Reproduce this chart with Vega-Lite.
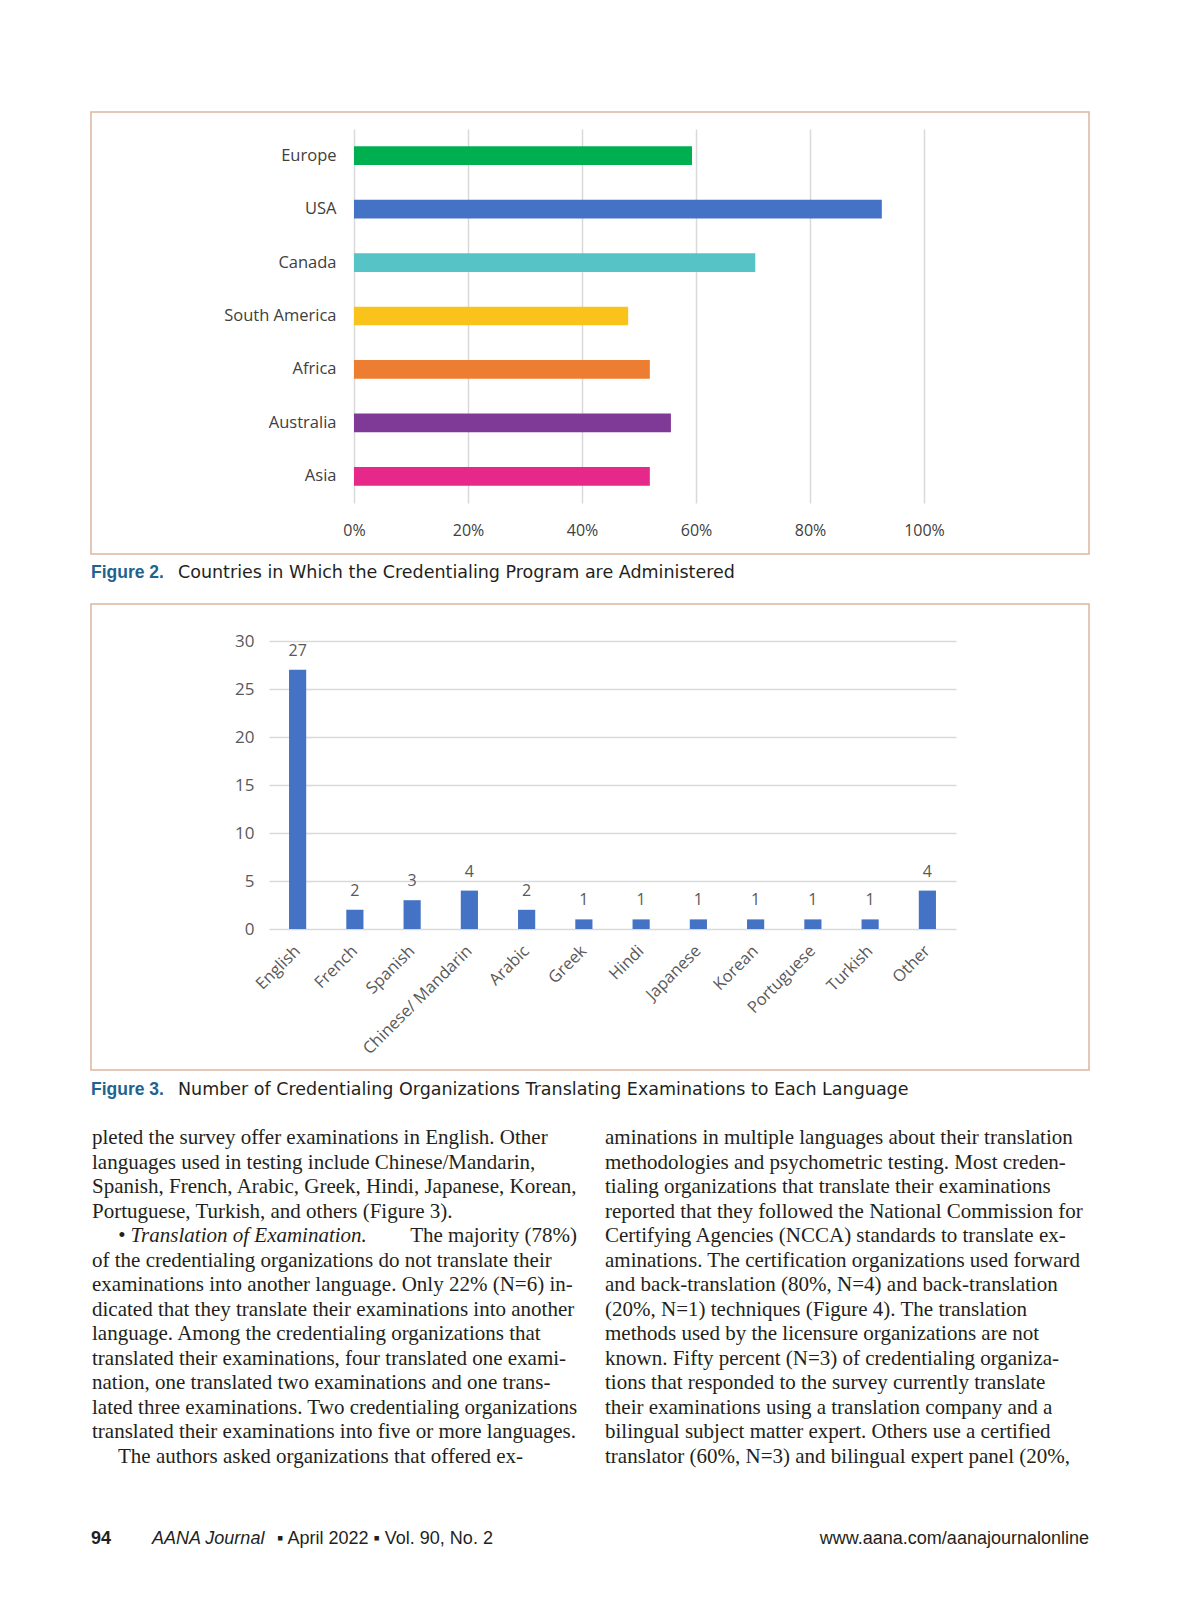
{
  "$schema": "https://vega.github.io/schema/vega-lite/v6.json",
  "background": "white",
  "padding": {"left": 90, "top": 111, "right": 0, "bottom": 0},
  "bounds": "flush",
  "spacing": 0,
  "config": {"view": {"stroke": null}, "font": "Open Sans"},
  "datasets": {
    "regions": [
      {"region": "Europe", "share": 0.593},
      {"region": "USA", "share": 0.926},
      {"region": "Canada", "share": 0.704},
      {"region": "South America", "share": 0.481},
      {"region": "Africa", "share": 0.519},
      {"region": "Australia", "share": 0.556},
      {"region": "Asia", "share": 0.519}
    ],
    "languages": [
      {"language": "English", "count": 27},
      {"language": "French", "count": 2},
      {"language": "Spanish", "count": 3},
      {"language": "Chinese/ Mandarin", "count": 4},
      {"language": "Arabic", "count": 2},
      {"language": "Greek", "count": 1},
      {"language": "Hindi", "count": 1},
      {"language": "Japanese", "count": 1},
      {"language": "Korean", "count": 1},
      {"language": "Portuguese", "count": 1},
      {"language": "Turkish", "count": 1},
      {"language": "Other", "count": 4}
    ],
    "cap2": [
      {"part": "fig", "text": "Figure 2."},
      {"part": "title", "text": "Countries in Which the Credentialing Program are Administered"}
    ],
    "cap3": [
      {"part": "fig", "text": "Figure 3."},
      {"part": "title", "text": "Number of Credentialing Organizations Translating Examinations to Each Language"}
    ],
    "body": [
      {"col": "left", "line": 1, "text": "pleted the survey offer examinations in English. Other"},
      {"col": "left", "line": 2, "text": "languages used in testing include Chinese/Mandarin,"},
      {"col": "left", "line": 3, "text": "Spanish, French, Arabic, Greek, Hindi, Japanese, Korean,"},
      {"col": "left", "line": 4, "text": "Portuguese, Turkish, and others (Figure 3)."},
      {"col": "left", "line": 6, "text": "of the credentialing organizations do not translate their"},
      {"col": "left", "line": 7, "text": "examinations into another language. Only 22% (N=6) in-"},
      {"col": "left", "line": 8, "text": "dicated that they translate their examinations into another"},
      {"col": "left", "line": 9, "text": "language. Among the credentialing organizations that"},
      {"col": "left", "line": 10, "text": "translated their examinations, four translated one exami-"},
      {"col": "left", "line": 11, "text": "nation, one translated two examinations and one trans-"},
      {"col": "left", "line": 12, "text": "lated three examinations. Two credentialing organizations"},
      {"col": "left", "line": 13, "text": "translated their examinations into five or more languages."},
      {"col": "left", "line": 14, "text": "The authors asked organizations that offered ex-"},
      {"col": "right", "line": 1, "text": "aminations in multiple languages about their translation"},
      {"col": "right", "line": 2, "text": "methodologies and psychometric testing. Most creden-"},
      {"col": "right", "line": 3, "text": "tialing organizations that translate their examinations"},
      {"col": "right", "line": 4, "text": "reported that they followed the National Commission for"},
      {"col": "right", "line": 5, "text": "Certifying Agencies (NCCA) standards to translate ex-"},
      {"col": "right", "line": 6, "text": "aminations. The certification organizations used forward"},
      {"col": "right", "line": 7, "text": "and back-translation (80%, N=4) and back-translation"},
      {"col": "right", "line": 8, "text": "(20%, N=1) techniques (Figure 4). The translation"},
      {"col": "right", "line": 9, "text": "methods used by the licensure organizations are not"},
      {"col": "right", "line": 10, "text": "known. Fifty percent (N=3) of credentialing organiza-"},
      {"col": "right", "line": 11, "text": "tions that responded to the survey currently translate"},
      {"col": "right", "line": 12, "text": "their examinations using a translation company and a"},
      {"col": "right", "line": 13, "text": "bilingual subject matter expert. Others use a certified"},
      {"col": "right", "line": 14, "text": "translator (60%, N=3) and bilingual expert panel (20%,"}
    ],
    "heading": [
      {"col": "left", "line": 5, "lead": "\u2022 Translation of Examination.", "rest": "The majority (78%)"}
    ],
    "footer": [
      {"side": "left", "page": "94", "journal": "AANA Journal", "issue": "\u25aa April 2022 \u25aa Vol. 90, No. 2"},
      {"side": "right", "url": "www.aana.com/aanajournalonline"}
    ]
  },
  "vconcat": [
    {
      "width": 998,
      "height": 442,
      "view": {"stroke": "#DDB59D", "strokeWidth": 1.5},
      "data": {"name": "regions"},
      "mark": {"type": "bar"},
      "encoding": {
        "y": {
          "field": "region", "type": "nominal",
          "sort": ["Europe", "USA", "Canada", "South America", "Africa", "Australia", "Asia"],
          "scale": {"range": [17, 391], "paddingInner": 0.65, "paddingOuter": 0.325},
          "axis": {"orient": "left", "offset": -263, "domain": false, "ticks": false, "grid": false,
                   "labelPadding": 18, "labelFontSize": 16.5, "labelColor": "#404040", "labelFont": "Open Sans", "title": null}
        },
        "x": {
          "field": "share", "type": "quantitative",
          "scale": {"domain": [0, 1], "range": [263, 833], "nice": false},
          "axis": {"orient": "top", "offset": -418, "values": [0, 0.2, 0.4, 0.6, 0.8, 1], "format": ".0%",
                   "grid": true, "gridColor": "#D9D9D9", "gridWidth": 1.5, "domain": false, "ticks": false,
                   "labelFlush": false, "labelPadding": 0, "labelBaseline": "middle", "labelFontSize": 16, "labelColor": "#404040",
                   "labelFont": "Open Sans", "title": null}
        },
        "color": {
          "field": "region", "type": "nominal",
          "scale": {"domain": ["Europe", "USA", "Canada", "South America", "Africa", "Australia", "Asia"],
                    "range": ["#00B050", "#4472C4", "#56C3C6", "#F9C31B", "#ED7D31", "#7F3A97", "#E5288A"]},
          "legend": null
        }
      }
    },
    {
      "width": 998,
      "height": 50,
      "data": {"name": "cap2"},
      "encoding": {
        "x": {"field": "part", "type": "nominal", "scale": {"type": "point", "domain": ["fig", "title"], "range": [0, 87], "padding": 0}, "axis": null},
        "text": {"field": "text"}
      },
      "layer": [
        {"transform": [{"filter": "datum.part == 'fig'"}],
         "mark": {"type": "text", "align": "left", "baseline": "middle", "dy": -6, "font": "Liberation Sans", "fontSize": 17.5, "fontWeight": "bold", "color": "#1F6391"}},
        {"transform": [{"filter": "datum.part == 'title'"}],
         "mark": {"type": "text", "align": "left", "baseline": "middle", "dy": -6, "font": "DejaVu Sans", "fontSize": 17.5, "color": "#231F20"}}
      ]
    },
    {
      "width": 998,
      "height": 466,
      "view": {"stroke": "#DDB59D", "strokeWidth": 1.5},
      "data": {"name": "languages"},
      "encoding": {
        "x": {
          "field": "language", "type": "nominal",
          "sort": ["English", "French", "Spanish", "Chinese/ Mandarin", "Arabic", "Greek", "Hindi", "Japanese", "Korean", "Portuguese", "Turkish", "Other"],
          "scale": {"range": [178, 865], "paddingInner": 0.7, "paddingOuter": 0.35},
          "axis": {"orient": "bottom", "offset": -141, "labelAngle": -45, "labelAlign": "right", "labelBaseline": "middle",
                   "labelPadding": 19, "domain": false, "ticks": false, "grid": false, "labelFontSize": 16.5,
                   "labelColor": "#595959", "labelFont": "Open Sans", "title": null}
        },
        "y": {
          "field": "count", "type": "quantitative",
          "scale": {"domain": [0, 30], "range": [325, 37], "nice": false},
          "axis": {"orient": "left", "offset": -178, "values": [0, 5, 10, 15, 20, 25, 30], "grid": true,
                   "gridColor": "#D9D9D9", "gridWidth": 1.5, "domain": false, "ticks": false, "labelPadding": 15,
                   "labelFontSize": 17, "labelColor": "#595959", "labelFont": "Open Sans", "title": null}
        }
      },
      "layer": [
        {"mark": {"type": "bar", "color": "#4472C4"}},
        {"mark": {"type": "text", "baseline": "bottom", "dy": -11, "fontSize": 16, "color": "#595959", "font": "Open Sans"},
         "encoding": {"text": {"field": "count", "type": "quantitative"}}}
      ]
    },
    {
      "width": 998,
      "height": 43,
      "data": {"name": "cap3"},
      "encoding": {
        "x": {"field": "part", "type": "nominal", "scale": {"type": "point", "domain": ["fig", "title"], "range": [0, 87], "padding": 0}, "axis": null},
        "text": {"field": "text"}
      },
      "layer": [
        {"transform": [{"filter": "datum.part == 'fig'"}],
         "mark": {"type": "text", "align": "left", "baseline": "middle", "dy": -1.5, "font": "Liberation Sans", "fontSize": 17.5, "fontWeight": "bold", "color": "#1F6391"}},
        {"transform": [{"filter": "datum.part == 'title'"}],
         "mark": {"type": "text", "align": "left", "baseline": "middle", "dy": -1.5, "font": "DejaVu Sans", "fontSize": 17.5, "color": "#231F20"}}
      ]
    },
    {
      "width": 998,
      "height": 358,
      "encoding": {
        "x": {"field": "col", "type": "nominal", "scale": {"type": "point", "domain": ["left", "right"], "range": [1, 514], "padding": 0}, "axis": null},
        "y": {"field": "line", "type": "quantitative", "scale": {"domain": [1, 14], "range": [25, 344], "nice": false, "zero": false}, "axis": null}
      },
      "layer": [
        {"data": {"name": "body"},
         "transform": [{"filter": "!(datum.col == 'left' && datum.line == 14)"}],
         "mark": {"type": "text", "align": "left", "baseline": "middle", "font": "Liberation Serif", "fontSize": 21, "color": "#231F20"},
         "encoding": {"text": {"field": "text"}}},
        {"data": {"name": "body"},
         "transform": [{"filter": "datum.col == 'left' && datum.line == 14"}],
         "mark": {"type": "text", "align": "left", "baseline": "middle", "dx": 26, "font": "Liberation Serif", "fontSize": 21, "color": "#231F20"},
         "encoding": {"text": {"field": "text"}}},
        {"data": {"name": "heading"},
         "mark": {"type": "text", "align": "left", "baseline": "middle", "dx": 26, "font": "Liberation Serif", "fontSize": 21, "fontStyle": "italic", "color": "#231F20"},
         "encoding": {"text": {"field": "lead"}}},
        {"data": {"name": "heading"},
         "mark": {"type": "text", "align": "right", "baseline": "middle", "dx": 485, "font": "Liberation Serif", "fontSize": 21, "color": "#231F20"},
         "encoding": {"text": {"field": "rest"}}}
      ]
    },
    {
      "width": 998,
      "height": 136,
      "data": {"name": "footer"},
      "encoding": {
        "x": {"field": "side", "type": "nominal", "scale": {"type": "point", "domain": ["left", "right"], "range": [0, 998], "padding": 0}, "axis": null}
      },
      "layer": [
        {"transform": [{"filter": "datum.side == 'left'"}],
         "mark": {"type": "text", "align": "left", "baseline": "middle", "font": "Liberation Sans", "fontSize": 18, "fontWeight": "bold", "color": "#231F20"},
         "encoding": {"text": {"field": "page"}}},
        {"transform": [{"filter": "datum.side == 'left'"}],
         "mark": {"type": "text", "align": "left", "baseline": "middle", "dx": 61, "font": "Liberation Sans", "fontSize": 18, "fontStyle": "italic", "color": "#231F20"},
         "encoding": {"text": {"field": "journal"}}},
        {"transform": [{"filter": "datum.side == 'left'"}],
         "mark": {"type": "text", "align": "left", "baseline": "middle", "dx": 186, "font": "Liberation Sans", "fontSize": 18, "color": "#231F20"},
         "encoding": {"text": {"field": "issue"}}},
        {"transform": [{"filter": "datum.side == 'right'"}],
         "mark": {"type": "text", "align": "right", "baseline": "middle", "font": "Liberation Sans", "fontSize": 18, "color": "#231F20"},
         "encoding": {"text": {"field": "url"}}}
      ]
    }
  ]
}
